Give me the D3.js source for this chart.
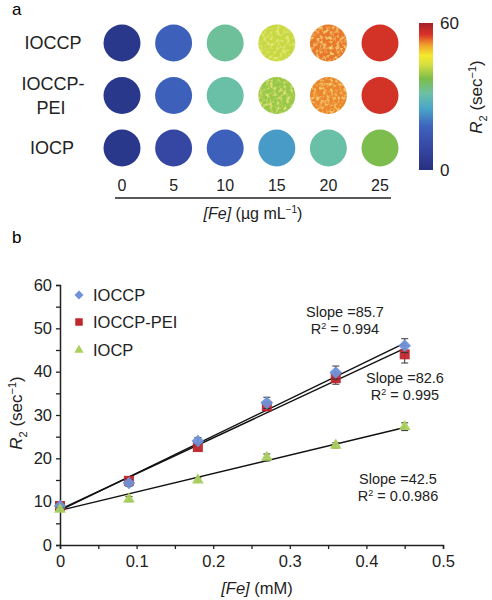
<!DOCTYPE html>
<html><head><meta charset="utf-8">
<script src="https://cdn.jsdelivr.net/npm/d3@7"></script>
<style>
body{margin:0;background:#fff;}
svg{display:block;font-family:"Liberation Sans",Arial,sans-serif;}
</style></head>
<body>
<svg id="c" width="492" height="600"></svg>
<script>
// ---------- Panel a data ----------
const rowNames = ["IOCCP", "IOCCP-PEI", "IOCP"];
const concLabels = ["0", "5", "10", "15", "20", "25"];
const r2MapIOCCP    = [3, 17, 32, 42, 52.5, 56];
const r2MapIOCCPPEI = [3, 17, 31, 39, 52, 56];
const r2MapIOCP     = [3, 9, 17, 24, 31, 37];
const colorbarTicks = [0, 60];
const colorStops = ["#27307f","#3647a3","#3f64bd","#49a6c8","#6cc0a6","#7cbd4a","#d8e040","#f5e92e","#f0a02c","#dc3328","#a5202a"];
const colorStopPos = [0, 0.15, 0.30, 0.42, 0.52, 0.62, 0.72, 0.78, 0.85, 0.92, 1.0];

// ---------- Panel b data ----------
const feMM = [0, 0.09, 0.18, 0.27, 0.36, 0.45];
const r2IOCCP    = [9.0, 14.3, 24.0, 32.8, 39.8, 46.0];
const errIOCCP   = [0.6, 0.8, 0.8, 1.3, 1.5, 1.6];
const r2IOCCPPEI = [9.0, 14.8, 22.6, 32.0, 38.5, 44.0];
const errIOCCPPEI= [0.6, 0.7, 0.8, 1.0, 1.4, 2.0];
const r2IOCP     = [8.2, 10.6, 15.0, 20.2, 23.0, 27.3];
const errIOCP    = [0.4, 0.6, 0.5, 0.8, 0.6, 0.9];
const fitSlopes     = [85.7, 82.6, 42.5];
const fitIntercepts = [8.0, 8.2, 8.0];
const fitR2Labels   = ["0.994", "0.995", "0.0.986"];
const yTicks = [0,5,10,15,20,25,30,35,40,45,50,55,60];
const xTicks = [0,0.05,0.1,0.15,0.2,0.25,0.3,0.35,0.4,0.45,0.5];

const svg = d3.select("#c");
const defs = svg.append("defs");

// ===== Panel a =====
svg.append("text").attr("x",12).attr("y",15).attr("font-size",17).text("a");

const colX = d3.scalePoint().domain(concLabels).range([122, 380]);
const rowY = d3.scalePoint().domain(rowNames).range([43, 148]);
const cmap = d3.scaleLinear().domain(colorStopPos.map(p=>p*60)).range(colorStops).clamp(true);

const soft = defs.append("filter").attr("id","soft").attr("x","-20%").attr("y","-20%").attr("width","140%").attr("height","140%");
soft.append("feGaussianBlur").attr("stdDeviation",0.7);

const mottle = defs.append("filter").attr("id","mottle").attr("x","-20%").attr("y","-20%").attr("width","140%").attr("height","140%");
mottle.append("feTurbulence").attr("type","fractalNoise").attr("baseFrequency",0.3).attr("numOctaves",2).attr("seed",4).attr("result","n");
mottle.append("feColorMatrix").attr("in","n").attr("type","matrix")
  .attr("values","0 0 0 0 0.96  0 0 0 0 0.84  0 0 0 0 0.25  2.2 0 0 0 -1.02").attr("result","spots");
mottle.append("feComposite").attr("in","spots").attr("in2","SourceAlpha").attr("operator","in").attr("result","s2");
const mm = mottle.append("feMerge").attr("result","m");
mm.append("feMergeNode").attr("in","SourceGraphic");
mm.append("feMergeNode").attr("in","s2");
mottle.append("feGaussianBlur").attr("in","m").attr("stdDeviation",0.7);

const gridRows = [r2MapIOCCP, r2MapIOCCPPEI, r2MapIOCP];
const ga = svg.append("g");
gridRows.forEach((vals, ri) => {
  vals.forEach((v, ci) => {
    ga.append("circle")
      .attr("cx", colX(concLabels[ci]))
      .attr("cy", rowY(rowNames[ri]))
      .attr("r", 18.5)
      .attr("fill", cmap(v))
      .attr("filter", (v >= 38 && v <= 53) ? "url(#mottle)" : "url(#soft)");
  });
});

// row labels
const rl = svg.append("g").attr("font-size",18).attr("text-anchor","middle").attr("fill","#222");
rl.append("text").attr("x",53).attr("y",rowY("IOCCP")).attr("dy","0.35em").text("IOCCP");
rl.append("text").attr("x",53).attr("y",rowY("IOCCP-PEI")-12).attr("dy","0.35em").text("IOCCP-");
rl.append("text").attr("x",51).attr("y",rowY("IOCCP-PEI")+12).attr("dy","0.35em").text("PEI");
rl.append("text").attr("x",52).attr("y",rowY("IOCP")).attr("dy","0.35em").text("IOCP");

// concentration labels + line
const cl = svg.append("g").attr("font-size",16).attr("text-anchor","middle").attr("fill","#222");
concLabels.forEach(c => cl.append("text").attr("x", colX(c)).attr("y", 191).text(c));
svg.append("line").attr("x1",115).attr("x2",391).attr("y1",198).attr("y2",198).attr("stroke","#222").attr("stroke-width",1.5);
const xa = svg.append("text").attr("x",253).attr("y",219).attr("text-anchor","middle").attr("font-size",16).attr("fill","#222");
xa.append("tspan").attr("font-style","italic").text("[Fe]");
xa.append("tspan").text(" (µg mL");
xa.append("tspan").attr("font-size",10).attr("dy",-6).text("−1");
xa.append("tspan").attr("dy",6).text(")");

// colorbar
const grad = defs.append("linearGradient").attr("id","cb").attr("x1",0).attr("x2",0).attr("y1",1).attr("y2",0);
colorStops.forEach((c,i)=>grad.append("stop").attr("offset",colorStopPos[i]).attr("stop-color",c));
const cbY = d3.scaleLinear().domain([0,60]).range([170,23]);
svg.append("rect").attr("x",419).attr("y",cbY(60)).attr("width",14).attr("height",cbY(0)-cbY(60)).attr("fill","url(#cb)");
colorbarTicks.forEach(t => svg.append("text").attr("x",440).attr("y",cbY(t)).attr("dy","0.35em").attr("font-size",17).attr("fill","#222").text(t));
const cbt = svg.append("text").attr("transform","translate(482,97) rotate(-90)").attr("text-anchor","middle").attr("font-size",17).attr("fill","#222");
cbt.append("tspan").attr("font-style","italic").text("R");
cbt.append("tspan").attr("font-size",11).attr("dy",5).text("2");
cbt.append("tspan").attr("dy",-5).text(" (sec");
cbt.append("tspan").attr("font-size",11).attr("dy",-6).text("−1");
cbt.append("tspan").attr("dy",6).text(")");

// ===== Panel b =====
svg.append("text").attr("x",12).attr("y",243).attr("font-size",17).text("b");

const x = d3.scaleLinear().domain([0,0.5]).range([60,443]);
const y = d3.scaleLinear().domain([0,60]).range([545,285]);

const yAxis = d3.axisLeft(y).tickValues(yTicks).tickSize(4).tickPadding(4)
  .tickFormat(d => d % 10 === 0 ? d : "");
const xAxis = d3.axisBottom(x).tickValues(xTicks).tickSize(4).tickPadding(6)
  .tickFormat(d => Math.abs(d*10 - Math.round(d*10)) < 1e-6 ? d3.format("")(+d.toFixed(1)) : "");

const gy = svg.append("g").attr("transform","translate(60,0)").call(yAxis);
const gx = svg.append("g").attr("transform","translate(0,545)").call(xAxis);
[gx, gy].forEach(g => {
  g.select(".domain").attr("stroke","#222").attr("stroke-width",1.5);
  g.selectAll(".tick line").attr("stroke","#222").attr("stroke-width",1.3);
  g.selectAll(".tick text").attr("font-size",16.5).attr("fill","#222").attr("font-family","Liberation Sans, Arial, sans-serif");
});

// axis titles
const yt = svg.append("text").attr("transform","translate(22,413) rotate(-90)").attr("text-anchor","middle").attr("font-size",17).attr("fill","#222");
yt.append("tspan").attr("font-style","italic").text("R");
yt.append("tspan").attr("font-size",11).attr("dy",5).text("2");
yt.append("tspan").attr("dy",-5).text(" (sec");
yt.append("tspan").attr("font-size",11).attr("dy",-6).text("−1");
yt.append("tspan").attr("dy",6).text(")");

const xt = svg.append("text").attr("x",257).attr("y",594).attr("text-anchor","middle").attr("font-size",16.5).attr("fill","#222");
xt.append("tspan").attr("font-style","italic").text("[Fe]");
xt.append("tspan").text(" (mM)");

// fit lines
const gl = svg.append("g");
fitSlopes.forEach((s,i) => {
  gl.append("line")
    .attr("x1", x(0)).attr("y1", y(fitIntercepts[i]))
    .attr("x2", x(0.45)).attr("y2", y(fitIntercepts[i] + s*0.45))
    .attr("stroke","#111").attr("stroke-width",1.4);
});

const diamond = { draw(ctx, size){ const r = Math.sqrt(size/2); ctx.moveTo(0,-r); ctx.lineTo(r,0); ctx.lineTo(0,r); ctx.lineTo(-r,0); ctx.closePath(); } };

const series = [
  {name:"IOCCP-PEI", vals:r2IOCCPPEI, err:errIOCCPPEI, color:"#c0272d", sym:d3.symbolSquare, size:100},
  {name:"IOCCP", vals:r2IOCCP, err:errIOCCP, color:"#6f92d8", sym:diamond, size:80},
  {name:"IOCP", vals:r2IOCP, err:errIOCP, color:"#a9cf5c", sym:d3.symbolTriangle, size:60}
];
const gm = svg.append("g");
series.forEach(s => {
  s.vals.forEach((v,i) => {
    const cx = x(feMM[i]);
    const e = s.err[i];
    gm.append("line").attr("x1",cx).attr("x2",cx).attr("y1",y(v-e)).attr("y2",y(v+e)).attr("stroke","#333").attr("stroke-width",1);
    [v-e, v+e].forEach(ev => gm.append("line").attr("x1",cx-3.5).attr("x2",cx+3.5).attr("y1",y(ev)).attr("y2",y(ev)).attr("stroke","#333").attr("stroke-width",1));
    gm.append("path").attr("d", d3.symbol().type(s.sym).size(s.size)()).attr("transform",`translate(${cx},${y(v)})`).attr("fill",s.color).attr("opacity",0.95);
  });
});

// legend
const legend = [
  {name:"IOCCP", color:"#6f92d8", sym:diamond, size:40, y:295},
  {name:"IOCCP-PEI", color:"#c0272d", sym:d3.symbolSquare, size:56, y:322},
  {name:"IOCP", color:"#a9cf5c", sym:d3.symbolTriangle, size:36, y:350}
];
legend.forEach(l => {
  svg.append("path").attr("d", d3.symbol().type(l.sym).size(l.size)()).attr("transform",`translate(79,${l.y})`).attr("fill",l.color);
  svg.append("text").attr("x",93).attr("y",l.y).attr("dy","0.35em").attr("font-size",16.5).attr("fill","#222").text(l.name);
});

// annotations
const annPos = [[345,312],[405,378],[398,479]];
fitSlopes.forEach((s,i) => {
  const [ax, ay] = annPos[i];
  svg.append("text").attr("x",ax).attr("y",ay).attr("dy","0.35em").attr("text-anchor","middle").attr("font-size",14.5).attr("fill","#222").text("Slope =" + s);
  const t = svg.append("text").attr("x",ax).attr("y",ay+17).attr("dy","0.35em").attr("text-anchor","middle").attr("font-size",14.5).attr("fill","#222");
  t.append("tspan").text("R");
  t.append("tspan").attr("font-size",9).attr("dy",-5).text("2");
  t.append("tspan").attr("dy",5).text(" = " + fitR2Labels[i]);
});
</script>
</body></html>
